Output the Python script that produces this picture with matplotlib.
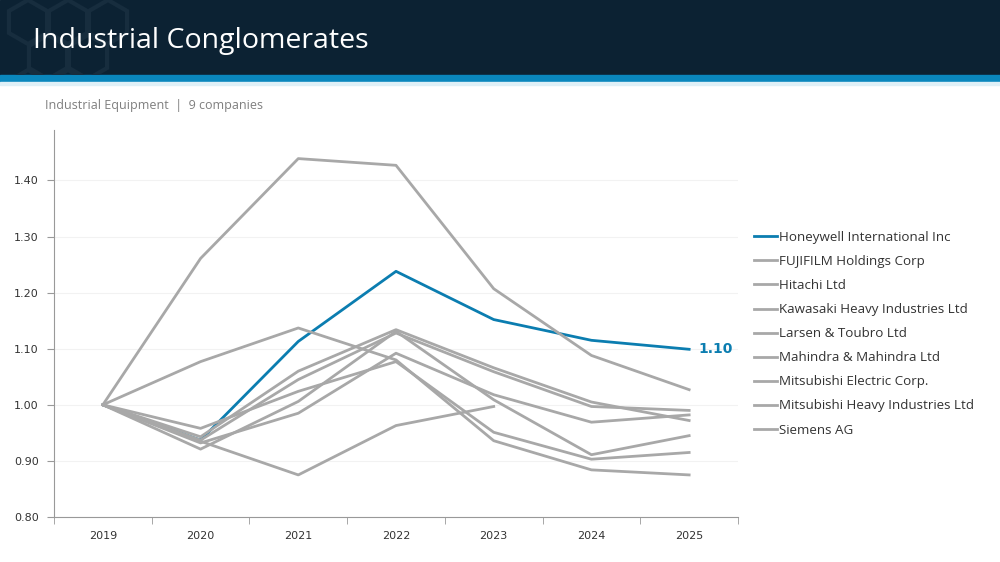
import numpy as np
import matplotlib
matplotlib.use('Agg')
import matplotlib.pyplot as plt
from matplotlib.patches import Rectangle, RegularPolygon

years = ['2019', '2020', '2021', '2022', '2023', '2024', '2025']

companies = ['Honeywell International Inc', 'FUJIFILM Holdings Corp', 'Hitachi Ltd',
             'Kawasaki Heavy Industries Ltd', 'Larsen & Toubro Ltd', 'Mahindra & Mahindra Ltd',
             'Mitsubishi Electric Corp.', 'Mitsubishi Heavy Industries Ltd', 'Siemens AG']

honeywell = [1.00, 0.937, 1.113, 1.238, 1.152, 1.115, 1.099]
fujifilm = [1.00, 0.943, 1.060, 1.134, 1.066, 1.005, 0.972]
hitachi = [1.00, 0.937, 1.045, 1.128, 1.059, 0.997, 0.990]
kawasaki = [1.00, 0.921, 1.006, 1.131, 1.009, 0.911, 0.945]
larsen = [1.00, 1.077, 1.137, 1.080, 0.936, 0.884, 0.875]
mahindra = [1.00, 1.261, 1.439, 1.427, 1.207, 1.088, 1.027]
mitsu_elec = [1.00, 0.932, 0.985, 1.092, 1.018, 0.969, 0.982]
mitsu_heavy = [1.00, 0.958, 1.024, 1.077, 0.951, 0.903, 0.915]
siemens = [1.00, 0.935, 0.875, 0.963, 0.997, np.nan, np.nan]

gray_series = [fujifilm, hitachi, kawasaki, larsen, mahindra, mitsu_elec, mitsu_heavy, siemens]

blue = '#0b7db0'
gray = '#a8a8a8'
navy = '#0c2233'

fig = plt.figure(figsize=(10, 5.62), dpi=100)

# header band
header = Rectangle((0, 1 - 75 / 562), 1, 75 / 562, transform=fig.transFigure,
                   color=navy, zorder=0)
fig.patches.append(header)
fig.patches.append(Rectangle((0, 1 - 82 / 562), 1, 7 / 562, transform=fig.transFigure,
                             color='#0a87bd', zorder=0))
fig.patches.append(Rectangle((0, 1 - 85 / 562), 1, 3 / 562, transform=fig.transFigure,
                             color='#dff0f7', zorder=0))
# faint hexagon watermark
for cx, cy in [(28, 540), (68, 540), (48, 505), (88, 505), (108, 540), (28, 470), (68, 470)]:
    hexagon = RegularPolygon((cx, cy), 6, radius=22, transform=None, fill=False,
                             edgecolor='#172d3e', linewidth=3, zorder=0.5)
    hexagon.set_clip_path(header)
    fig.patches.append(hexagon)

fig.text(0.033, 1 - 41 / 562, 'Industrial Conglomerates', color='white',
         fontsize=20.5, family='Open Sans', va='center', ha='left')
fig.text(0.045, 1 - 106 / 562, 'Industrial Equipment  |  9 companies', color='#7f7f7f',
         fontsize=9, family='Open Sans', va='center', ha='left')

ax = fig.add_axes([0.054, 0.0801, 0.684, 0.6886])
x = np.arange(len(years))

lines = []
lines.append(ax.plot(x, honeywell, color=blue, lw=2, zorder=2)[0])
for s in gray_series:
    lines.append(ax.plot(x, s, color=gray, lw=2, zorder=3)[0])

ax.annotate('%.2f' % honeywell[-1], (x[-1], honeywell[-1]), xytext=(7, 0),
            textcoords='offset points', color=blue, fontweight='bold',
            fontsize=10, va='center', ha='left')

ax.set_xlim(-0.5, 6.5)
ax.set_ylim(0.8, 1.49)
ax.set_yticks([0.8, 0.9, 1.0, 1.1, 1.2, 1.3, 1.4])
ax.set_yticklabels(['%.2f' % v for v in [0.8, 0.9, 1.0, 1.1, 1.2, 1.3, 1.4]])
ax.set_xticks(x)
ax.set_xticklabels(years)
ax.set_xticks(np.arange(-0.5, 7, 1), minor=True)
ax.tick_params(axis='x', which='major', length=0, pad=10, labelsize=8, labelcolor='#333333')
ax.tick_params(axis='x', which='minor', length=5, color='#999999', direction='out')
ax.tick_params(axis='y', length=5, color='#999999', labelsize=8, labelcolor='#333333', pad=6)
ax.grid(axis='y', color='#f2f2f2', lw=0.8)
ax.set_axisbelow(True)
for sp in ['top', 'right']:
    ax.spines[sp].set_visible(False)
for sp in ['left', 'bottom']:
    ax.spines[sp].set_color('#999999')

leg = fig.legend(lines, companies, loc='upper left', bbox_to_anchor=(0.742, 1 - 219 / 562),
                 frameon=False, handlelength=1.75, handletextpad=0.1, labelspacing=0.83,
                 prop={'family': 'Open Sans', 'size': 9.6})
for t in leg.get_texts():
    t.set_color('#333333')

fig.savefig('out.png', dpi=100)
